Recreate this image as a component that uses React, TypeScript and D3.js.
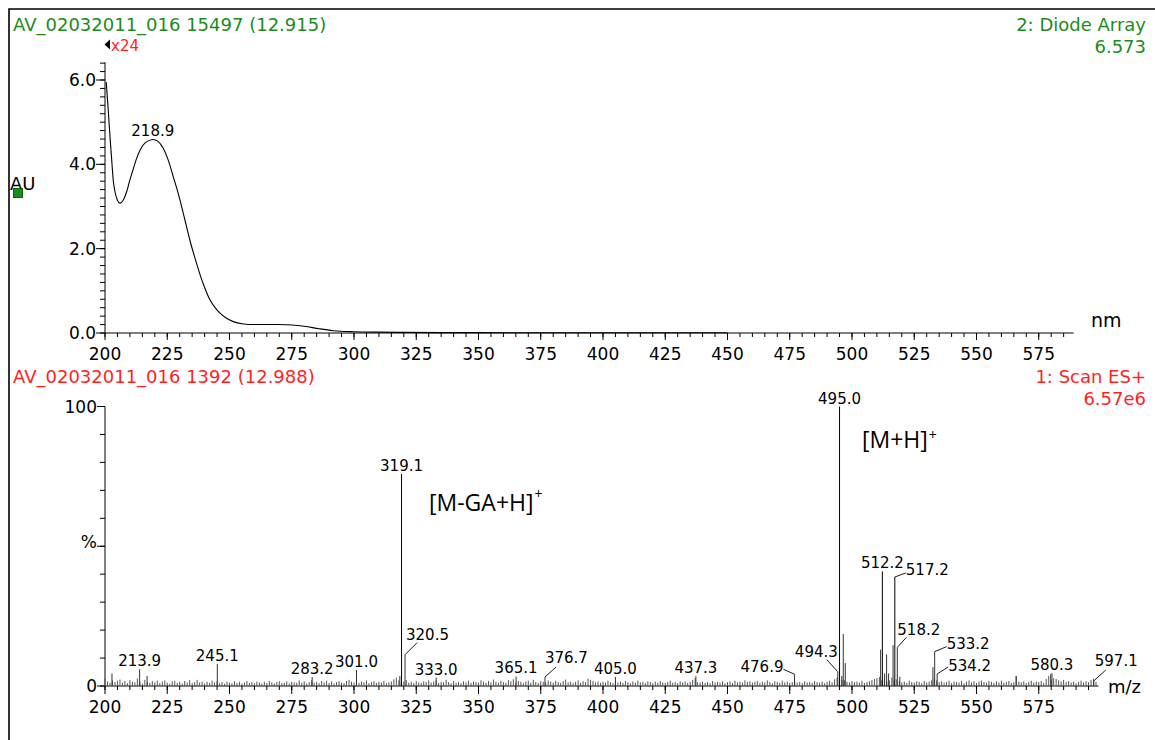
import React from 'react';
import * as d3 from 'd3';

// ---------- UV (Diode Array) spectrum ----------
const uvWavelength = [200.5, 201.3, 202.0, 202.7, 203.3, 204.0, 205.0, 206.0, 207.3, 208.7, 210.0, 211.4, 212.7, 214.1, 216.1, 219.2, 221.4, 223.4, 225.4, 227.4, 229.4, 232.1, 234.1, 236.1, 238.2, 240.2, 242.2, 244.2, 246.2, 248.5, 251.5, 255, 260, 265, 270, 275, 280, 286, 291.6, 300, 310, 320, 335, 350, 400, 450];
const uvAbsorbance = [5.95, 5.29, 4.66, 4.1, 3.63, 3.35, 3.15, 3.08, 3.15, 3.35, 3.63, 3.9, 4.14, 4.34, 4.51, 4.59, 4.54, 4.38, 4.1, 3.71, 3.31, 2.68, 2.2, 1.78, 1.38, 1.05, 0.78, 0.6, 0.47, 0.36, 0.27, 0.22, 0.2, 0.2, 0.2, 0.19, 0.16, 0.1, 0.055, 0.03, 0.02, 0.015, 0.01, 0.008, 0.005, 0.005];
const uvPeakLabel = 218.9;
const uvPeakLabelAt = 219.2;

// ---------- MS (Scan ES+) spectrum ----------
const msPeakMz = [202.8, 213.9, 216.9, 245.1, 283.2, 301.0, 318.4, 319.1, 320.5, 333.0, 365.1, 376.7, 405.0, 437.3, 476.9, 494.3, 495.0, 495.9, 496.5, 497.3, 511.5, 512.2, 513.1, 513.9, 514.7, 516.5, 517.2, 518.2, 519.2, 532.5, 533.2, 534.2, 565.9, 579.8, 580.3, 597.1];
const msPeakIntensity = [4.5, 6.0, 3.6, 7.9, 3.2, 5.7, 3.6, 75.9, 11.2, 3.0, 3.4, 3.2, 3.2, 3.5, 4.2, 5.1, 100, 3.6, 18.6, 8.2, 13.0, 41.0, 4.5, 11.3, 4.5, 14.6, 39.0, 13.8, 3.3, 6.7, 12.3, 4.3, 3.6, 4.2, 4.6, 1.8];
const msLabeled = [213.9, 245.1, 283.2, 301.0, 319.1, 320.5, 333.0, 365.1, 376.7, 405.0, 437.3, 476.9, 494.3, 495.0, 512.2, 517.2, 518.2, 533.2, 534.2, 580.3, 597.1];

// baseline noise, one value per integer m/z from 200 to 599 (% intensity)
const msNoiseStart = 200;
const msNoise = [
  2.6, 1.6, 1.1, 2.0, 1.4, 1.9, 2.3, 1.2, 1.8, 1.0, 2.1, 1.5, 1.3, 2.7, 1.6, 0.9, 2.2, 1.4, 1.1, 1.8,
  1.3, 1.9, 1.0, 1.6, 2.0, 1.2, 0.8, 1.7, 1.9, 1.1, 1.5, 0.9, 1.8, 1.3, 2.1, 1.0, 1.4, 2.2, 1.2, 1.6,
  0.9, 1.5, 1.1, 1.9, 1.3, 1.7, 1.0, 1.4, 0.8, 1.6, 1.2, 1.0, 1.7, 1.1, 1.5, 0.9, 1.3, 1.8, 1.1, 1.4,
  1.0, 1.6, 1.2, 0.8, 1.5, 1.1, 1.8, 1.3, 0.9, 1.4, 1.7, 1.0, 1.2, 1.6, 0.9, 1.5, 1.3, 1.1, 2.0, 1.2,
  1.7, 0.9, 1.4, 2.1, 1.2, 1.5, 1.0, 1.8, 1.3, 1.9, 1.1, 1.6, 0.9, 1.4, 1.7, 1.2, 1.0, 1.8, 2.2, 1.5,
  1.2, 1.9, 1.1, 1.6, 1.3, 2.0, 1.0, 1.4, 1.7, 1.1, 1.5, 1.2, 1.8, 1.0, 1.3, 1.6, 2.4, 3.0, 2.0, 1.4,
  1.6, 2.1, 1.2, 1.5, 1.0, 1.8, 1.3, 1.1, 1.7, 1.4, 2.0, 1.2, 1.6, 1.9, 1.1, 1.5, 1.3, 2.2, 1.4, 1.0,
  1.8, 1.2, 1.5, 1.0, 1.7, 1.3, 1.9, 1.1, 1.6, 1.4, 1.2, 2.0, 1.5, 1.1, 1.8, 1.3, 2.3, 1.6, 1.2, 1.9,
  1.4, 1.1, 2.1, 1.7, 2.4, 1.3, 1.8, 1.5, 1.0, 1.6, 1.9, 1.2, 2.2, 1.4, 1.1, 1.7, 1.5, 1.3, 2.0, 1.6,
  1.2, 1.9, 1.4, 1.1, 1.8, 2.3, 1.3, 1.6, 1.0, 1.5, 2.0, 1.2, 1.7, 1.4, 2.6, 2.2, 1.8, 1.3, 1.6, 1.1,
  1.5, 1.2, 1.9, 1.4, 1.0, 1.7, 1.3, 1.6, 1.1, 1.8, 1.4, 1.0, 1.6, 1.2, 1.9, 1.3, 1.5, 1.1, 1.7, 1.4,
  1.0, 1.6, 1.2, 1.8, 1.3, 1.1, 1.5, 1.9, 1.2, 1.4, 1.0, 1.7, 1.3, 1.6, 1.1, 1.5, 2.2, 2.8, 1.4, 1.2,
  1.6, 1.1, 1.4, 1.0, 1.8, 1.3, 1.5, 1.2, 1.7, 1.0, 1.4, 1.6, 1.1, 1.9, 1.3, 1.5, 1.2, 2.0, 1.4, 1.7,
  1.2, 1.5, 1.8, 1.1, 1.6, 1.3, 2.0, 1.4, 1.0, 1.7, 1.5, 1.2, 1.9, 1.3, 1.6, 1.1, 1.4, 1.8, 1.2, 1.5,
  1.0, 1.7, 1.3, 1.5, 1.1, 1.8, 1.4, 1.2, 1.6, 1.0, 1.5, 1.9, 1.3, 2.4, 3.0, 2.6, 2.2, 2.0, 1.5, 1.2,
  1.8, 1.4, 1.6, 1.2, 1.9, 1.1, 1.5, 1.7, 2.1, 2.5, 2.8, 3.2, 2.0, 2.4, 1.6, 2.0, 3.0, 2.2, 2.4, 1.8,
  1.3, 1.6, 1.1, 1.9, 1.4, 1.2, 1.7, 1.5, 1.0, 1.8, 1.3, 1.6, 2.0, 2.4, 2.0, 1.4, 1.7, 1.2, 1.5, 1.9,
  1.1, 1.6, 1.4, 1.2, 1.8, 1.0, 1.5, 2.0, 1.3, 1.7, 1.1, 1.6, 1.9, 1.4, 1.2, 1.8, 1.5, 1.1, 1.7, 1.3,
  1.9, 1.2, 1.5, 1.8, 1.1, 1.4, 3.4, 1.6, 1.3, 1.7, 1.0, 1.5, 1.9, 1.2, 1.6, 1.4, 1.8, 1.1, 2.5, 3.6,
  2.2, 2.8, 2.5, 2.0, 1.6, 2.2, 1.4, 1.8, 1.2, 1.6, 1.0, 1.5, 1.9, 1.3, 1.7, 1.4, 2.2, 2.6, 1.5, 1.2,
];

// ---------- axes ----------
const xMajorTicks = [200, 225, 250, 275, 300, 325, 350, 375, 400, 425, 450, 475, 500, 525, 550, 575];
const uvYMajorTicks = [0, 2, 4, 6];
const uvYLabels = ['0.0', '2.0', '4.0', '6.0'];
const msYLabels: [number, string][] = [[0, '0'], [50, '%'], [100, '100']];

// ---------- texts ----------
const uvTitleLeft = 'AV_02032011_016 15497 (12.915)';
const uvTitleRight = '2: Diode Array';
const uvMax = '6.573';
const msTitleLeft = 'AV_02032011_016 1392 (12.988)';
const msTitleRight = '1: Scan ES+';
const msMax = '6.57e6';

// label placement for labels with leader lines (layout only)
const leaderLayout: Record<string, { lx: number; ly: number; tx: number; ty: number; anchor: string }> = {
  '320.5': { lx: 12, ly: -12, tx: 1, ty: -15, anchor: 'start' },
  '376.7': { lx: 11, ly: -10, tx: 0, ty: -14, anchor: 'start' },
  '476.9': { lx: -11, ly: -5, tx: -11, ty: -2, anchor: 'end' },
  '494.3': { lx: -11, ly: -12, tx: 0, ty: -15, anchor: 'end' },
  '517.2': { lx: 11, ly: -4, tx: 11, ty: -2, anchor: 'start' },
  '518.2': { lx: 9, ly: -10, tx: 0, ty: -12, anchor: 'start' },
  '533.2': { lx: 12, ly: -5, tx: 12, ty: -3, anchor: 'start' },
  '534.2': { lx: 11, ly: -7, tx: 11, ty: -3, anchor: 'start' },
  '597.1': { lx: 12, ly: -11, tx: 1, ty: -15, anchor: 'start' },
};

const GREEN = '#1b8c1b';
const RED = '#ff1f1f';
const FONT = '"DejaVu Sans", sans-serif';
const ANNOT_FONT = '"Open Sans", sans-serif';

export default function App() {
  const xUv = d3.scaleLinear().domain([200, 589]).range([105, 1073.6]);
  const yUv = d3.scaleLinear().domain([0, 6.42]).range([333, 62.3]);
  const xMs = d3.scaleLinear().domain([200, 599]).range([105, 1098.5]);
  const yMs = d3.scaleLinear().domain([0, 100]).range([686, 406.5]);

  const uvData = uvWavelength.map((w, i) => [w, uvAbsorbance[i]] as [number, number]);
  const uvLine = d3
    .line<[number, number]>()
    .x((d) => xUv(d[0]))
    .y((d) => yUv(d[1]))
    .curve(d3.curveMonotoneX)(uvData) as string;

  const minorUvX = d3.range(200, 589, 5);
  const minorMsX = d3.range(200, 599, 5);
  const minorUvY = d3.range(0, 6.41, 0.2);
  const minorMsY = d3.range(0, 100.1, 10);

  const noise = msNoise
    .map((v, i) => ({ mz: msNoiseStart + i, v }))
    .filter((d) => d.mz <= 598);

  const peaks = msPeakMz.map((mz, i) => ({ mz, v: msPeakIntensity[i] }));

  const uvPeakY = yUv(uvAbsorbance[uvWavelength.indexOf(uvPeakLabelAt)]);

  return (
    <svg
      width={1155}
      height={740}
      style={{ position: 'absolute', left: 0, top: 0, background: '#fff' }}
      fontFamily={FONT}
    >
      <rect x={0} y={0} width={1155} height={740} fill="#fff" />
      {/* frame */}
      <path d="M9,740 V9 H1155" fill="none" stroke="#000" strokeWidth={1.6} />

      {/* ===== Top panel: UV ===== */}
      <text x={13} y={31} fill={GREEN} fontSize={18}>{uvTitleLeft}</text>
      <text x={1146} y={31} fill={GREEN} fontSize={18} textAnchor="end">{uvTitleRight}</text>
      <text x={1146} y={53} fill={GREEN} fontSize={18} textAnchor="end">{uvMax}</text>
      <path d="M104.5,44.5 L110,39.5 L110,49.5 Z" fill="#000" />
      <text x={111} y={51} fill={RED} fontSize={15}>x24</text>

      {/* y axis */}
      <line x1={105} x2={105} y1={yUv(6.42)} y2={yUv(0)} stroke="#000" />
      {minorUvY.map((v) => (
        <line key={'uym' + v} x1={100} x2={105} y1={yUv(v)} y2={yUv(v)} stroke="#000" />
      ))}
      {uvYMajorTicks.map((v, i) => (
        <g key={'uy' + v}>
          <line x1={96} x2={105} y1={yUv(v)} y2={yUv(v)} stroke="#000" />
          <text x={96} y={yUv(v) + 6} fontSize={17} textAnchor="end" fill="#000">{uvYLabels[i]}</text>
        </g>
      ))}
      <text x={10} y={190} fontSize={18} fill="#000">AU</text>
      <rect x={13.5} y={188.5} width={9} height={9} fill={GREEN} stroke="#0d5d0d" />

      {/* x axis */}
      <line x1={105} x2={xUv(589)} y1={333} y2={333} stroke="#000" />
      {minorUvX.map((v) => (
        <line key={'uxm' + v} x1={xUv(v)} x2={xUv(v)} y1={333} y2={337} stroke="#000" />
      ))}
      {xMajorTicks.map((v) => (
        <g key={'ux' + v}>
          <line x1={xUv(v)} x2={xUv(v)} y1={333} y2={340} stroke="#000" />
          <text x={xUv(v)} y={360} fontSize={17} textAnchor="middle" fill="#000">{v}</text>
        </g>
      ))}
      <text x={1091} y={327} fontSize={19} fill="#000">nm</text>

      <path d={uvLine} fill="none" stroke="#000" strokeWidth={1.1} />
      <text x={xUv(uvPeakLabelAt)} y={uvPeakY - 3} fontSize={15} textAnchor="middle" fill="#000">
        {uvPeakLabel.toFixed(1)}
      </text>

      {/* ===== Bottom panel: MS ===== */}
      <text x={13} y={383} fill={RED} fontSize={18}>{msTitleLeft}</text>
      <text x={1146} y={383} fill={RED} fontSize={18} textAnchor="end">{msTitleRight}</text>
      <text x={1146} y={405} fill={RED} fontSize={18} textAnchor="end">{msMax}</text>

      {/* y axis */}
      <line x1={105} x2={105} y1={yMs(100)} y2={yMs(0)} stroke="#000" />
      {minorMsY.map((v) => (
        <line key={'mym' + v} x1={100} x2={105} y1={yMs(v)} y2={yMs(v)} stroke="#000" />
      ))}
      {msYLabels.map(([v, t]) => (
        <g key={'my' + v}>
          <line x1={97} x2={105} y1={yMs(v)} y2={yMs(v)} stroke="#000" />
          <text x={97} y={yMs(v) + (t === '%' ? 2 : 6)} fontSize={17} textAnchor="end" fill="#000">{t}</text>
        </g>
      ))}

      {/* x axis */}
      <line x1={105} x2={xMs(599)} y1={686} y2={686} stroke="#000" />
      {minorMsX.map((v) => (
        <line key={'mxm' + v} x1={xMs(v)} x2={xMs(v)} y1={686} y2={690} stroke="#000" />
      ))}
      {xMajorTicks.map((v) => (
        <g key={'mx' + v}>
          <line x1={xMs(v)} x2={xMs(v)} y1={686} y2={694} stroke="#000" />
          <text x={xMs(v)} y={713} fontSize={17} textAnchor="middle" fill="#000">{v}</text>
        </g>
      ))}
      <text x={1108} y={693} fontSize={18} fill="#000">m/z</text>

      {/* noise */}
      {noise.map((d) => (
        <line key={'n' + d.mz} x1={xMs(d.mz)} x2={xMs(d.mz)} y1={686} y2={yMs(d.v)} stroke="#555" strokeWidth={1} />
      ))}
      {/* peaks */}
      {peaks.map((d) => (
        <line key={'p' + d.mz} x1={xMs(d.mz)} x2={xMs(d.mz)} y1={686} y2={yMs(d.v)} stroke={d.v > 20 ? '#000' : '#333'} strokeWidth={1} />
      ))}
      {/* peak labels */}
      {msLabeled.map((mz) => {
        const p = peaks.find((q) => q.mz === mz)!;
        const px = xMs(p.mz);
        const py = yMs(p.v);
        const t = mz.toFixed(1);
        const L = leaderLayout[t];
        if (L) {
          return (
            <g key={'l' + t}>
              <line x1={px} y1={py} x2={px + L.lx} y2={py + L.ly} stroke="#000" strokeWidth={0.9} />
              <text x={px + L.tx} y={py + L.ty} fontSize={15} textAnchor={L.anchor as any} fill="#000">{t}</text>
            </g>
          );
        }
        return (
          <text key={'l' + t} x={px} y={py - 3} fontSize={15} textAnchor="middle" fill="#000">{t}</text>
        );
      })}

      {/* annotations */}
      <text x={429} y={510.5} fontSize={23} fontFamily={ANNOT_FONT} fill="#000">
        <tspan>[M-GA+H]</tspan>
        <tspan fontSize={14} dy={-12} dx={1}>+</tspan>
      </text>
      <text x={862} y={448} fontSize={23} fontFamily={ANNOT_FONT} fill="#000">
        <tspan>[M+H]</tspan>
        <tspan fontSize={14} dy={-8} dx={1}>+</tspan>
      </text>
    </svg>
  );
}
